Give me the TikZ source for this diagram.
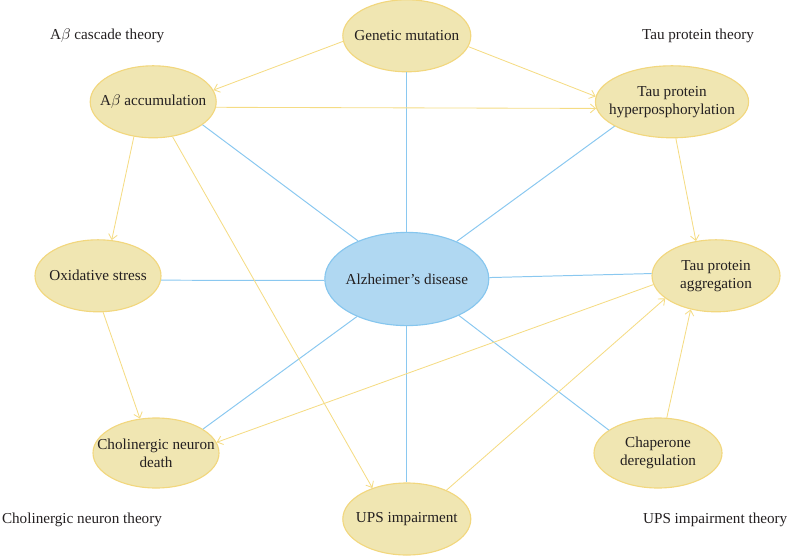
\documentclass[tikz,border=0pt]{standalone}
\usepackage{fontspec}
\setmainfont{Liberation Serif}
\usetikzlibrary{arrows.meta,shapes.geometric}
\definecolor{ylfill}{HTML}{F0E6B2}
\definecolor{yldraw}{HTML}{F2D77E}
\definecolor{ylline}{HTML}{F5DC84}
\definecolor{blfill}{HTML}{B0D8F2}
\definecolor{bldraw}{HTML}{86C6EE}
\definecolor{blline}{HTML}{8AC8F0}
\definecolor{txt}{HTML}{231F20}
\tikzset{
  cause/.style={ellipse, draw=yldraw, fill=ylfill, line width=0.8pt, inner xsep=-0.3cm, inner ysep=0pt,
    minimum width=3.2cm, minimum height=1.8cm, align=center, text=txt,
    font=\fontsize{10.8}{12.8}\selectfont},
  disease/.style={ellipse, draw=bldraw, fill=blfill, line width=0.8pt, inner xsep=-0.3cm, inner ysep=0pt,
    minimum width=4.1cm, minimum height=2.33cm, align=center, text=txt,
    font=\fontsize{10.8}{12.8}\selectfont},
  theory/.style={text=txt, font=\fontsize{10.8}{12.8}\selectfont},
  causes/.style={ylline, line width=0.6pt, -{Straight Barb[length=1.3mm,width=2.2mm]}},
  links/.style={blline, line width=0.7pt}
}
\begin{document}
\begin{tikzpicture}
\useasboundingbox (0,0) rectangle (19.725,13.875);
\node[cause] (gen) at (10.17,12.98) {Genetic mutation};
\node[cause, minimum width=3.15cm] (abeta) at (3.83,11.33) {A$\beta$ accumulation};
\node[cause, minimum width=3.83cm] (tauhyp) at (16.8,11.33) {Tau protein\\hyperposphorylation};
\node[cause, minimum width=3.15cm] (oxi) at (2.45,6.98) {Oxidative stress};
\node[disease] (ad) at (10.17,6.9) {Alzheimer's disease};
\node[cause] (tauagg) at (17.9,6.98) {Tau protein\\aggregation};
\node[cause, minimum width=3.15cm, minimum height=1.75cm, inner xsep=-0.4cm] (chol) at (3.9,2.55) {Cholinergic neuron\\death};
\node[cause, minimum height=1.75cm] (chap) at (16.45,2.55) {Chaperone\\deregulation};
\node[cause] (ups) at (10.17,0.9) {UPS impairment};
\node[theory] (t1) at (2.68,12.98) {A$\beta$ cascade theory};
\node[theory] (t2) at (17.45,12.98) {Tau protein theory};
\node[theory] (t3) at (2.05,0.88) {Cholinergic neuron theory};
\node[theory] (t4) at (17.88,0.88) {UPS impairment theory};
\draw[links] (ad.90) -- (gen.270);
\draw[links] (ad.142) -- (abeta.335);
\draw[links] (ad.37) -- (tauhyp.203);
\draw[links] (ad.181) -- (oxi.356);
\draw[links] (ad.1) -- (tauagg.178);
\draw[links] (ad.217) -- (chol.27);
\draw[links] (ad.325) -- (chap.155);
\draw[links] (ad.270) -- (ups.90);
\draw[causes] (gen.185) -- (abeta.11);
\draw[causes] (gen.-10) -- (tauhyp.176);
\draw[causes] (abeta.-5) -- (tauhyp.185);
\draw[causes] (abeta.241) -- (oxi.69);
\draw[causes] (abeta.299) -- (ups.138);
\draw[causes] (tauhyp.276) -- (tauagg.120);
\draw[causes] (oxi.278) -- (chol.115);
\draw[causes] (tauagg.188) -- (chol.10);
\draw[causes] (ups.36) -- (tauagg.204);
\draw[causes] (chap.76) -- (tauagg.233);
\end{tikzpicture}
\end{document}
